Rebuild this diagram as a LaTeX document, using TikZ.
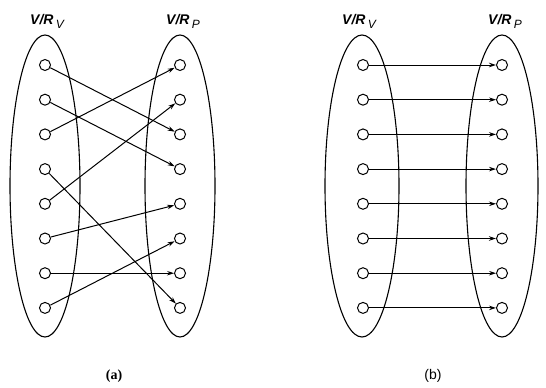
\documentclass[tikz,border=0pt]{standalone}
\usepackage{fontspec}
\setmainfont{Liberation Serif}
\newfontfamily\lblfont{Liberation Sans}
\usetikzlibrary{arrows.meta}
\begin{document}
\begin{tikzpicture}[x=1pt,y=-1pt,
  vtx/.style={circle,draw,line width=1pt,minimum size=11pt,inner sep=0pt},
  conn/.style={line width=1pt,-{Stealth[length=7pt,width=4.5pt]}},
  setline/.style={line width=1.1pt},
  setlbl/.style={font=\lblfont\bfseries\itshape\fontsize{14}{16}\selectfont,anchor=base west,inner sep=0pt},
  sublbl/.style={anchor=base,inner sep=0pt},
]
\useasboundingbox (0,0) rectangle (546,388);
\newcommand{\subV}[1]{V/R\,\raisebox{-4pt}{\mdseries\fontsize{12}{14}\selectfont #1}}
% ellipses
\draw[setline] (45,186) ellipse [x radius=35, y radius=151];
\draw[setline] (180,186) ellipse [x radius=35, y radius=151];
\draw[setline] (362,186) ellipse [x radius=37, y radius=151];
\draw[setline] (502,186) ellipse [x radius=36, y radius=151];
% labels
\node[setlbl] (la1) at (30,24) {\subV{V}};
\node[setlbl] (la2) at (166,24) {\subV{P}};
\node[setlbl] (lb1) at (342,24) {\subV{V}};
\node[setlbl] (lb2) at (488,24) {\subV{P}};
\node[sublbl,font=\rmfamily\bfseries\fontsize{14}{16}\selectfont] (capa) at (114,379) {(a)};
\node[sublbl,font=\lblfont\fontsize{14}{16}\selectfont] (capb) at (433,379) {(b)};
% vertices
\foreach \i in {1,...,8}{
  \pgfmathsetmacro{\yy}{65+(\i-1)*34.7}
  \node[vtx] (a\i) at (45,\yy) {};
  \node[vtx] (p\i) at (180,\yy) {};
  \node[vtx] (b\i) at (363,\yy) {};
  \node[vtx] (q\i) at (502,\yy) {};
}
% (a) connectors
\draw[conn] (a1) -- (p3);
\draw[conn] (a2) -- (p4);
\draw[conn] (a3) -- (p1);
\draw[conn] (a4) -- (p8);
\draw[conn] (a5) -- (p2);
\draw[conn] (a6) -- (p5);
\draw[conn] (a7) -- (p7);
\draw[conn] (a8) -- (p6);
% (b) connectors
\foreach \i in {1,...,8}{
  \draw[conn] (b\i) -- (q\i);
}
\end{tikzpicture}
\end{document}
